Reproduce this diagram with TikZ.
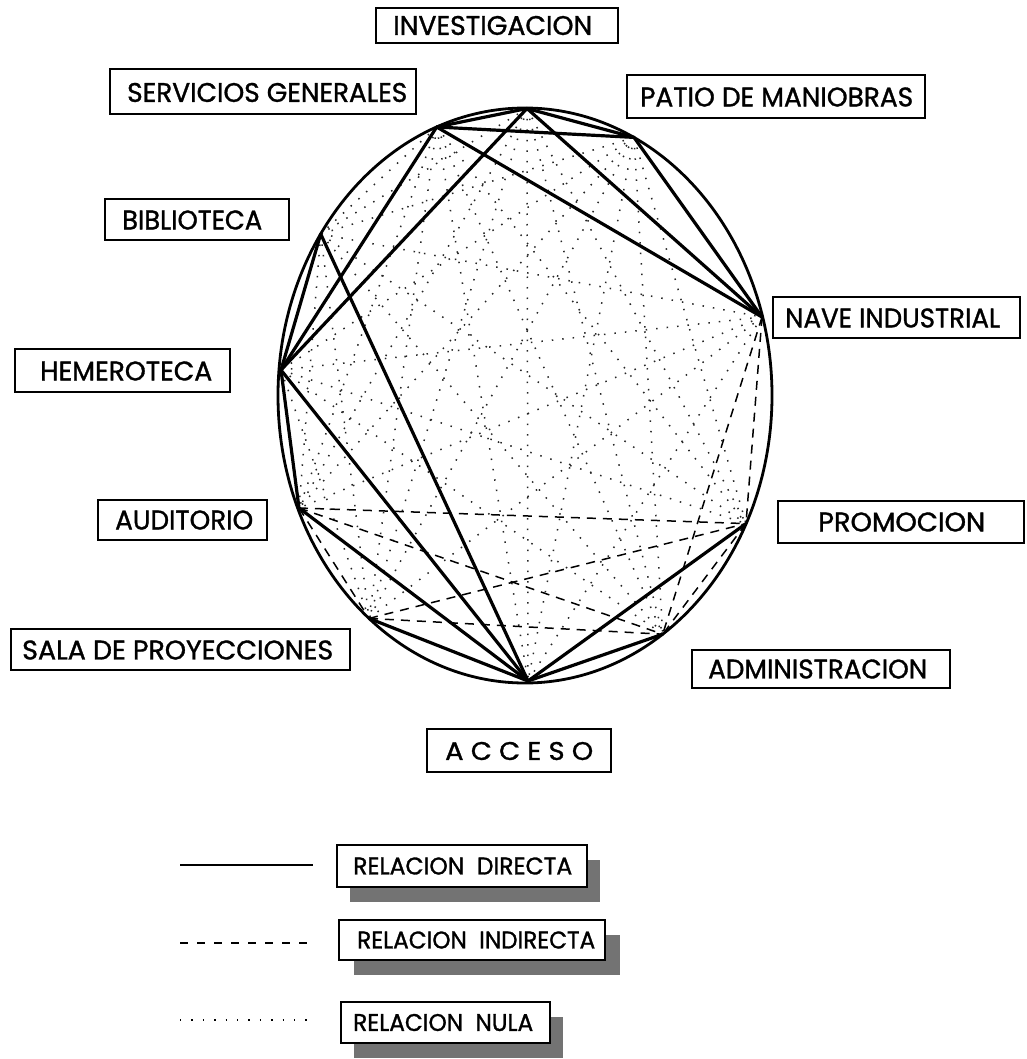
\documentclass[tikz,border=0pt]{standalone}
\usepackage{fontspec}
\setmainfont{Poppins}[FakeBold=1.2]
\usepackage{graphicx}
\newcommand{\fitt}[3]{\resizebox{#1pt}{#2pt}{#3}}
\begin{document}
\begin{tikzpicture}[x=1pt,y=-1pt,
  lbox/.style={draw, line width=2.6pt, inner sep=0pt, fill=white},
  txt/.style={inner sep=0pt, anchor=west},
  directa/.style={line width=3.2pt, line cap=round, line join=round},
  indirecta/.style={line width=1.5pt, dash pattern=on 9pt off 7pt},
  nula/.style={line width=1.5pt, dash pattern=on 1.5pt off 9pt, black!85},
  rim/.style={line width=2.8pt},
  shadowbox/.style={fill=black!55, draw=none, inner sep=0pt}]
\useasboundingbox (0,0) rectangle (1026,1059);
% points on the ring
\coordinate (pI)  at (527,108.5);
\coordinate (pSG) at (436.7,127);
\coordinate (pP)  at (634,137.4);
\coordinate (pB)  at (320.7,234);
\coordinate (pN)  at (762,317);
\coordinate (pH)  at (281,370);
\coordinate (pAu) at (299,508);
\coordinate (pPr) at (746,523.6);
\coordinate (pS)  at (369,618.4);
\coordinate (pAd) at (662.7,634.2);
\coordinate (pAc) at (528,681);
% null relations
\foreach \a/\b in {pI/pB,pI/pAu,pI/pPr,pI/pS,pI/pAd,pI/pAc,
  pSG/pB,pSG/pAu,pSG/pPr,pSG/pS,pSG/pAd,pSG/pAc,
  pP/pB,pP/pH,pP/pAu,pP/pPr,pP/pS,pP/pAd,pP/pAc,
  pB/pN,pB/pAu,pB/pPr,pB/pS,pB/pAd,
  pN/pH,pN/pAu,pN/pS,pN/pAc,
  pH/pPr,pH/pS,pH/pAd}
  \draw[nula] (\a) -- (\b);
% indirect relations
\foreach \a/\b in {pAu/pPr,pAu/pAd,pS/pPr,pS/pAd,pN/pPr,pN/pAd,pPr/pAd,pAu/pS}
  \draw[indirecta] (\a) -- (\b);
% ring
\draw[rim] (525,395.5) ellipse [x radius=247, y radius=287.5];
% direct relations
\foreach \a/\b in {pI/pSG,pI/pP,pSG/pP,pI/pN,pSG/pN,pP/pN,pI/pH,pSG/pH,
  pB/pH,pB/pAc,pH/pAc,pH/pAu,pAu/pAc,pS/pAc,pAc/pAd,pAc/pPr}
  \draw[directa] (\a) -- (\b);
% labels
\node[lbox, minimum width=242pt, minimum height=35pt] (bInv) at (497,25.5) {};
\node[txt] (tInv) at (393,25.5) {\fitt{199}{19}{INVESTIGACION}};
\node[lbox, minimum width=306pt, minimum height=45pt] (bSG) at (263,91.5) {};
\node[txt] (tSG) at (127,92.5) {\fitt{280}{19}{SERVICIOS GENERALES}};
\node[lbox, minimum width=298pt, minimum height=43pt] (bP) at (776,96.5) {};
\node[txt] (tP) at (640,97) {\fitt{273}{19}{PATIO DE MANIOBRAS}};
\node[lbox, minimum width=184pt, minimum height=41pt] (bB) at (197,219.5) {};
\node[txt] (tB) at (122,220) {\fitt{140}{19}{BIBLIOTECA}};
\node[lbox, minimum width=247pt, minimum height=41pt] (bN) at (896.5,317.5) {};
\node[txt] (tN) at (785,318) {\fitt{215}{19}{NAVE INDUSTRIAL}};
\node[lbox, minimum width=215pt, minimum height=43pt] (bH) at (122.5,370.5) {};
\node[txt] (tH) at (40,371) {\fitt{172}{19}{HEMEROTECA}};
\node[lbox, minimum width=169pt, minimum height=40pt] (bAu) at (182.5,520) {};
\node[txt] (tAu) at (115,520) {\fitt{138}{19}{AUDITORIO}};
\node[lbox, minimum width=246pt, minimum height=42pt] (bPr) at (901,522) {};
\node[txt] (tPr) at (818,522) {\fitt{167}{19}{PROMOCION}};
\node[lbox, minimum width=339pt, minimum height=41pt] (bS) at (180.5,649.5) {};
\node[txt] (tS) at (22,650) {\fitt{311}{19}{SALA DE PROYECCIONES}};
\node[lbox, minimum width=258pt, minimum height=38pt] (bAd) at (821,669) {};
\node[txt] (tAd) at (708,669) {\fitt{219}{19}{ADMINISTRACION}};
\node[lbox, minimum width=184pt, minimum height=43pt] (bAc) at (519,750.5) {};
\node[txt] (tAc) at (445,751) {\fitt{148}{18}{A C C E S O}};
% legend
\coordinate (l1a) at (180,865); \coordinate (l1b) at (313,865);
\coordinate (l2a) at (180,943); \coordinate (l2b) at (313,943);
\coordinate (l3a) at (180,1020); \coordinate (l3b) at (313,1020);
\draw[line width=2.4pt] (l1a) -- (l1b);
\draw[line width=1.4pt, dash pattern=on 8pt off 9pt] (l2a) -- (l2b);
\draw[line width=1.4pt, dash pattern=on 1.4pt off 10pt] (l3a) -- (l3b);
\node[shadowbox, minimum width=250pt, minimum height=42pt] (sD) at (475,881) {};
\node[lbox, minimum width=250pt, minimum height=42pt] (bD) at (462,866) {};
\node[txt] (tD) at (353,866) {\fitt{219}{17}{RELACION\ \ DIRECTA}};
\node[shadowbox, minimum width=266pt, minimum height=40pt] (sI) at (487,955) {};
\node[lbox, minimum width=266pt, minimum height=40pt] (bI) at (472,940) {};
\node[txt] (tI) at (357,940) {\fitt{238}{17}{RELACION\ \ INDIRECTA}};
\node[shadowbox, minimum width=209pt, minimum height=41pt] (sU) at (458.5,1037.5) {};
\node[lbox, minimum width=209pt, minimum height=41pt] (bU) at (445.5,1022.5) {};
\node[txt] (tU) at (353,1022.5) {\fitt{180}{17}{RELACION\ \ NULA}};
\end{tikzpicture}
\end{document}
